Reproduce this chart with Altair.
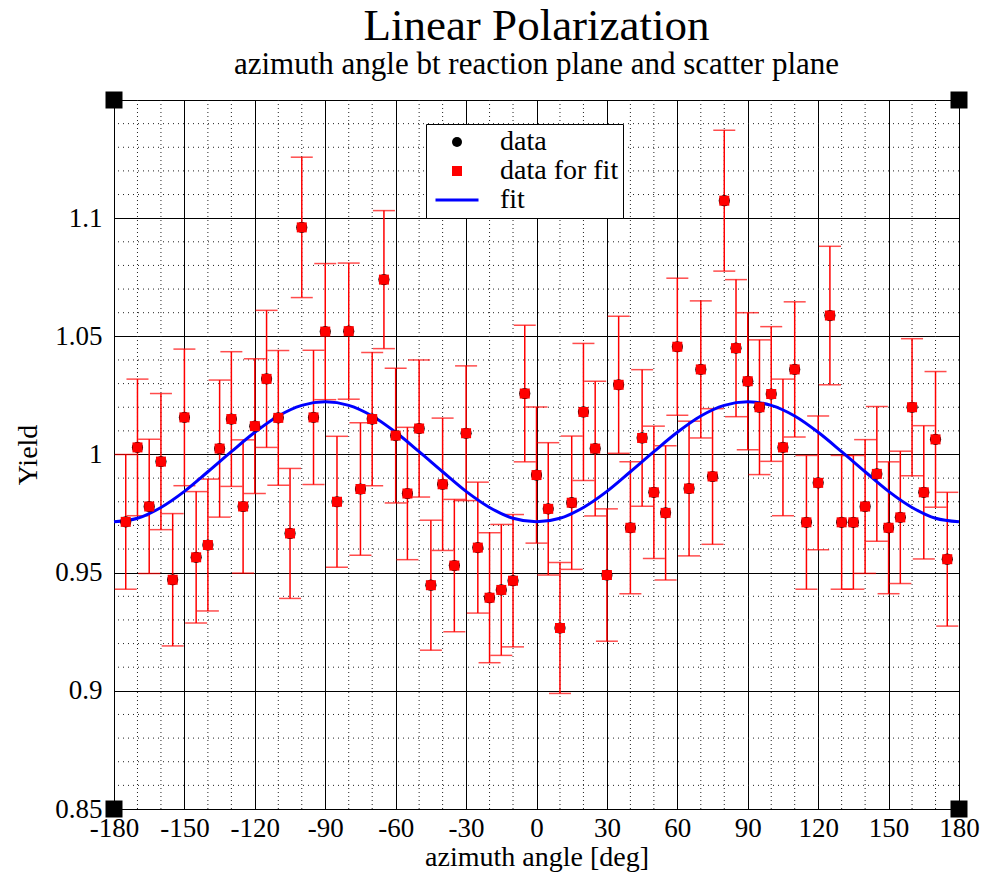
import altair as alt
import pandas as pd

# ---- data ----
angles = [-175, -170, -165, -160, -155, -150, -145, -140, -135, -130, -125, -120,
          -115, -110, -105, -100, -95, -90, -85, -80, -75, -70, -65, -60, -55, -50,
          -45, -40, -35, -30, -25, -20, -15, -10, -5, 0, 5, 10, 15, 20, 25, 30, 35,
          40, 45, 50, 55, 60, 65, 70, 75, 80, 85, 90, 95, 100, 105, 110, 115, 120,
          125, 130, 135, 140, 145, 150, 155, 160, 165, 170, 175]
yields = [0.9715, 1.003, 0.978, 0.997, 0.947, 1.0157, 0.9565, 0.9617, 1.0025, 1.015,
          0.978, 1.012, 1.032, 1.0155, 0.9666, 1.0961, 1.0157,
          1.052, 0.980, 1.0522, 0.9854, 1.015, 1.074, 1.008, 0.9835, 1.011, 0.9447,
          0.9874, 0.953, 1.009, 0.9606, 0.9394, 0.9427, 0.9466, 1.0258, 0.9913,
          0.977, 0.9266, 0.9796, 1.018, 1.0025, 0.949, 1.0295, 0.969, 1.007, 0.984,
          0.9753, 1.0456, 0.9856, 1.036, 0.9907, 1.1074, 1.045, 1.031, 1.020,
          1.0256, 1.003, 1.036, 0.9713, 0.988, 1.0588, 0.9713, 0.9713, 0.978,
          0.9918, 0.969, 0.9734, 1.020, 0.984, 1.0064, 0.9557]
errors = [0.0285, 0.0289, 0.0284, 0.0288, 0.028, 0.0289, 0.0278, 0.0279, 0.029, 0.0285,
          0.0282, 0.0285, 0.029, 0.0285, 0.0275, 0.0297, 0.0284,
          0.0288, 0.0277, 0.0288, 0.028, 0.0282, 0.0292, 0.0285, 0.028, 0.029, 0.0275,
          0.028, 0.028, 0.0285, 0.0277, 0.0275, 0.0277, 0.028, 0.0289, 0.0288,
          0.028, 0.0277, 0.0282, 0.029, 0.0285, 0.028, 0.029, 0.0279, 0.0289, 0.028,
          0.0284, 0.029, 0.0285, 0.029, 0.0287, 0.0298, 0.029, 0.029, 0.0285,
          0.0285, 0.0289, 0.0286, 0.0283, 0.0283, 0.0293, 0.0283, 0.0283, 0.0283,
          0.0285, 0.0279, 0.028, 0.029, 0.0282, 0.0287, 0.0283]

fit_angles = [-180, -170, -160, -150, -140, -130, -120, -110, -100, -90, -80, -70,
              -60, -50, -40, -30, -20, -10, 0, 10, 20, 30, 40, 50, 60, 70, 80, 90,
              100, 110, 120, 130, 140, 150, 160, 170, 180]
fit_values = [0.9715, 0.9730, 0.9776, 0.9844, 0.9927, 1.0012, 1.0094, 1.0163, 1.0208,
              1.0223, 1.0208, 1.0163, 1.0094, 1.0012, 0.9927, 0.9844, 0.9776, 0.9730,
              0.9715, 0.9730, 0.9776, 0.9844, 0.9927, 1.0012, 1.0094, 1.0163, 1.0208,
              1.0223, 1.0208, 1.0163, 1.0094, 1.0012, 0.9927, 0.9844, 0.9776, 0.9730,
              0.9715]

series_names = ["data", "data for fit", "fit"]
series_fills = ["black", "red", "transparent"]
series_strokes = ["transparent", "transparent", "blue"]
series_shapes = ["circle", "square", "M-4.3,0L4.3,0"]

x_major = [-180, -150, -120, -90, -60, -30, 0, 30, 60, 90, 120, 150, 180]
x_minor = [-170, -160, -140, -130, -110, -100, -80, -70, -50, -40, -20, -10,
           10, 20, 40, 50, 70, 80, 100, 110, 130, 140, 160, 170]
y_major = [0.85, 0.9, 0.95, 1.0, 1.05, 1.1, 1.15]
y_minor = [0.86, 0.87, 0.88, 0.89, 0.91, 0.92, 0.93, 0.94, 0.96, 0.97, 0.98, 0.99,
           1.01, 1.02, 1.03, 1.04, 1.06, 1.07, 1.08, 1.09, 1.11, 1.12, 1.13, 1.14]

corner_x = [-180, 180, -180, 180]
corner_y = [0.85, 0.85, 1.15, 1.15]

# ---- tables ----
pts = pd.DataFrame({"angle": angles, "yield": yields, "err": errors})
pts["lo"] = pts["yield"] - pts["err"]
pts["hi"] = pts["yield"] + pts["err"]
fit = pd.DataFrame({"angle": fit_angles, "yield": fit_values})
corners = pd.DataFrame({"angle": corner_x, "yield": corner_y})
vgrid = pd.DataFrame({"angle": x_minor})
hgrid = pd.DataFrame({"yield": y_minor})

FONT = "Liberation Serif"

xscale = alt.Scale(domain=[-180, 180], nice=False, zero=False)
yscale = alt.Scale(domain=[0.85, 1.15], nice=False, zero=False)

xaxis = alt.Axis(
    values=x_major, title="azimuth angle [deg]",
    labelExpr="'' + datum.value",
    grid=True, gridColor="black", gridOpacity=1, gridWidth=1,
    ticks=False, tickSize=0, domain=False, labelPadding=6,
    labelFont=FONT, labelFontSize=27, labelColor="black",
    titleFont=FONT, titleFontSize=28, titleFontWeight="normal", titleColor="black",
    titlePadding=2, labelFlush=False, labelOverlap=False,
)
yaxis = alt.Axis(
    values=y_major, title="Yield",
    labelExpr="datum.value < 1.14 ? '' + datum.value : ''",
    grid=True, gridColor="black", gridOpacity=1, gridWidth=1,
    ticks=False, tickSize=0, domain=False, labelPadding=12,
    labelFont=FONT, labelFontSize=27, labelColor="black",
    titleFont=FONT, titleFontSize=28, titleFontWeight="normal", titleColor="black",
    titlePadding=12, labelFlush=False, labelOverlap=False,
)

# minor dotted grid
vminor = alt.Chart(vgrid).mark_rule(color="#222", strokeWidth=1, strokeDash=[1, 3]).encode(
    x=alt.X("angle:Q", scale=xscale))
hminor = alt.Chart(hgrid).mark_rule(color="#222", strokeWidth=1, strokeDash=[1, 4]).encode(
    y=alt.Y("yield:Q", scale=yscale))

axes_layer = alt.Chart(fit).mark_point(opacity=0).encode(
    x=alt.X("angle:Q", scale=xscale, axis=xaxis),
    y=alt.Y("yield:Q", scale=yscale, axis=yaxis))

base_pts = alt.Chart(pts)
bars = base_pts.mark_rule(color="red", strokeWidth=1.5).encode(
    x=alt.X("angle:Q", scale=xscale),
    y=alt.Y("lo:Q", scale=yscale),
    y2="hi:Q",
)
cap_lo = base_pts.mark_tick(color="red", orient="horizontal", size=22, thickness=1.5).encode(
    x=alt.X("angle:Q", scale=xscale), y=alt.Y("lo:Q", scale=yscale))
cap_hi = base_pts.mark_tick(color="red", orient="horizontal", size=22, thickness=1.5).encode(
    x=alt.X("angle:Q", scale=xscale), y=alt.Y("hi:Q", scale=yscale))

legend = alt.Legend(
    orient="none", legendX=312, legendY=24, title=None,
    fillColor="white", strokeColor="black", padding=4, symbolOffset=13,
    labelOffset=29, labelFont=FONT, labelFontSize=28, symbolSize=100,
    labelColor="black", rowPadding=1, symbolStrokeWidth=3, symbolOpacity=1,
)


def series_layer(name, size):
    return base_pts.transform_calculate(series=f"'{name}'").mark_point(
        filled=True, opacity=1, strokeWidth=0, size=size
    ).encode(
        x=alt.X("angle:Q", scale=xscale),
        y=alt.Y("yield:Q", scale=yscale),
        fill=alt.Fill("series:N", scale=alt.Scale(domain=series_names, range=series_fills),
                      legend=legend),
        stroke=alt.Stroke("series:N", scale=alt.Scale(domain=series_names, range=series_strokes),
                          legend=legend),
        shape=alt.Shape("series:N", scale=alt.Scale(domain=series_names, range=series_shapes),
                        legend=legend),
    )


data_circles = series_layer("data", 125)
fit_squares = series_layer("data for fit", 100)

fit_line = alt.Chart(fit).mark_line(color="blue", strokeWidth=3, interpolate="monotone").encode(
    x=alt.X("angle:Q", scale=xscale), y=alt.Y("yield:Q", scale=yscale))

corner_marks = alt.Chart(corners).mark_square(color="black", size=289, opacity=1, filled=True, clip=False).encode(
    x=alt.X("angle:Q", scale=xscale), y=alt.Y("yield:Q", scale=yscale))

chart = alt.layer(
    vminor, hminor, axes_layer, bars, cap_lo, cap_hi, fit_line, data_circles, fit_squares, corner_marks
).properties(
    width=845, height=709,
    title=alt.TitleParams(
        text="Linear Polarization",
        subtitle="azimuth angle bt reaction plane and scatter plane",
        font=FONT, fontSize=45, fontWeight="normal", color="black",
        subtitleFont=FONT, subtitleFontSize=31, subtitleColor="black",
        anchor="middle", offset=6, subtitlePadding=1,
    ),
    autosize=alt.AutoSizeParams(type="none"),
    padding={"left": 114, "top": 100, "right": 26, "bottom": 66},
).configure_view(stroke="black", strokeWidth=1.5).configure(background="white")

chart.save("out.html", embed_options={"renderer": "svg", "actions": False})
